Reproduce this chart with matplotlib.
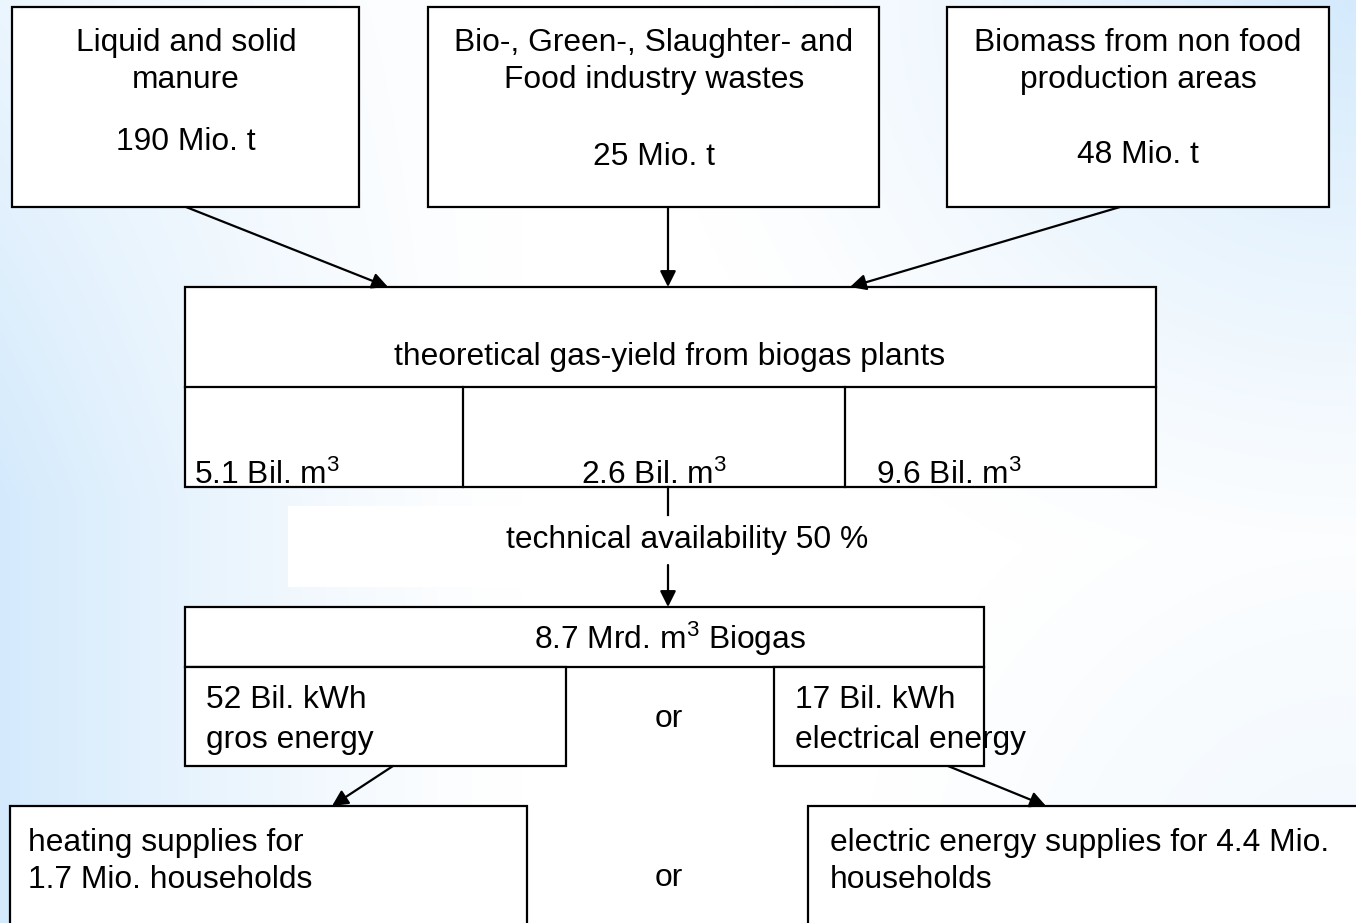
import numpy as np
import matplotlib
matplotlib.use("Agg")
import matplotlib.pyplot as plt
from matplotlib.patches import Rectangle

plt.rcParams['font.family'] = ['Liberation Sans', 'DejaVu Sans']
plt.rcParams['mathtext.fontset'] = 'custom'
plt.rcParams['mathtext.rm'] = 'Liberation Sans'
plt.rcParams['mathtext.it'] = 'Liberation Sans'
plt.rcParams['mathtext.bf'] = 'Liberation Sans'

# ---- content ----
source_titles = ["Liquid and solid\nmanure",
                 "Bio-, Green-, Slaughter- and\nFood industry wastes",
                 "Biomass from non food\nproduction areas"]
source_amounts = ["190 Mio. t", "25 Mio. t", "48 Mio. t"]
yield_title = "theoretical gas-yield from biogas plants"
yield_values = ["5.1 Bil. m$^{3}$", "2.6 Bil. m$^{3}$", "9.6 Bil. m$^{3}$"]
availability = "technical availability 50 %"
biogas_total = "8.7 Mrd. m$^{3}$ Biogas"
energy_left = "52 Bil. kWh\ngros energy"
energy_right = "17 Bil. kWh\nelectrical energy"
or_label = "or"
supply_left = "heating supplies for\n1.7 Mio. households"
supply_right = "electric energy supplies for 4.4 Mio.\nhouseholds"

W, H = 1356, 923
fig = plt.figure(figsize=(W / 100, H / 100), dpi=100)
ax = fig.add_axes([0, 0, 1, 1])
ax.set_xlim(0, W)
ax.set_ylim(H, 0)
ax.axis('off')

# background gradient
yy, xx = np.mgrid[0:H:2, 0:W:2]
left = np.clip(1 - xx / 520.0, 0, 1) ** 1.3 * (0.45 + 0.55 * np.clip(yy / 500.0, 0, 1))
tr = np.clip(1 - np.hypot((W - xx) / 700.0, yy / 620.0), 0, 1) ** 1.2
br = np.clip(1 - np.hypot((W - xx) / 500.0, (H - yy) / 500.0), 0, 1) * 0.35
t = np.clip(np.maximum(np.maximum(left, tr), br), 0, 1)
white = np.array([1.0, 1.0, 1.0])
blue = np.array([212, 234, 252]) / 255.0
img = white[None, None, :] * (1 - t[..., None]) + blue[None, None, :] * t[..., None]
ax.imshow(img, extent=[0, W, H, 0], aspect='auto', zorder=0, interpolation='bilinear')

LW = 1.6
FS = 22.9


def box(x0, y0, x1, y1, fc='white', lw=LW, z=2):
    ax.add_patch(Rectangle((x0, y0), x1 - x0, y1 - y0, facecolor=fc,
                           edgecolor='black' if lw else 'none', lw=lw, zorder=z))


def arrow(p0, p1):
    ax.annotate('', xy=p1, xytext=p0,
                arrowprops=dict(arrowstyle='-|>', color='black', lw=LW,
                                mutation_scale=24, shrinkA=0, shrinkB=0),
                zorder=4)


# source boxes
src_boxes = [(12, 7, 359, 207), (428, 7, 879, 207), (947, 7, 1329, 207)]
title_cx = [186, 654, 1138]
amount_y = [142, 157, 155]
for (b, ttl, amt, cx, ay) in zip(src_boxes, source_titles, source_amounts, title_cx, amount_y):
    box(*b)
    ax.text(cx, 61.5, ttl, ha='center', va='center', fontsize=FS, linespacing=1.28, zorder=5)
    ax.text(cx, ay, amt, ha='center', va='center', fontsize=FS, zorder=5)

# arrows into yield box
arrow((186, 207), (388, 287))
arrow((668, 207), (668, 287))
arrow((1120, 207), (850, 287))

# yield box
box(185, 287, 1156, 487)
ax.plot([185, 1156], [387, 387], color='black', lw=LW, zorder=3)
ax.plot([463, 463], [387, 487], color='black', lw=LW, zorder=3)
ax.plot([845, 845], [387, 487], color='black', lw=LW, zorder=3)
ax.text(670, 357, yield_title, ha='center', va='center', fontsize=FS, zorder=5)
ax.text(194, 484, yield_values[0], ha='left', va='baseline', fontsize=FS, zorder=5)
ax.text(654, 484, yield_values[1], ha='center', va='baseline', fontsize=FS, zorder=5)
ax.text(876, 484, yield_values[2], ha='left', va='baseline', fontsize=FS, zorder=5)

# availability
box(288, 506, 700, 587, fc='white', lw=0, z=1)
ax.plot([668, 668], [487, 515], color='black', lw=LW, zorder=3)
ax.text(687, 540, availability, ha='center', va='center', fontsize=FS, zorder=5)
arrow((668, 565), (668, 607))

# biogas box
box(185, 607, 984, 667)
ax.text(670, 649, biogas_total, ha='center', va='baseline', fontsize=FS, zorder=5)
box(185, 667, 566, 766)
box(774, 667, 984, 766)
ax.text(206, 720, energy_left, ha='left', va='center', fontsize=FS, linespacing=1.4, zorder=5)
ax.text(795, 720, energy_right, ha='left', va='center', fontsize=FS, linespacing=1.4, zorder=5)

# "or" labels
box(625, 687, 697, 747, fc='white', lw=0, z=1)
ax.text(669, 719, or_label, ha='center', va='center', fontsize=FS, zorder=5)
box(625, 847, 697, 907, fc='white', lw=0, z=1)
ax.text(669, 878, or_label, ha='center', va='center', fontsize=FS, zorder=5)

# arrows to supplies
arrow((393, 766), (332, 806))
arrow((948, 766), (1046, 806))

# supply boxes (extend below frame)
box(10, 806, 527, 960)
box(808, 806, 1400, 960)
ax.text(28, 861.5, supply_left, ha='left', va='center', fontsize=FS, linespacing=1.28, zorder=5)
ax.text(830, 861.5, supply_right, ha='left', va='center', fontsize=FS, linespacing=1.28, zorder=5)

fig.savefig('out.png', dpi=100)
